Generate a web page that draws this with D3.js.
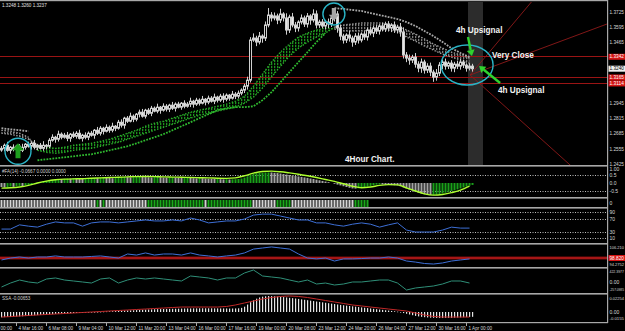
<!DOCTYPE html>
<html>
<head>
<meta charset="utf-8">
<script src="https://cdn.jsdelivr.net/npm/d3@7"></script>
<style>
  html, body { margin: 0; padding: 0; background: #000; }
  svg { display: block; }
  text { font-family: "Liberation Sans", Arial, sans-serif; }
</style>
</head>
<body>
<svg id="chart" width="625" height="331"></svg>
<script>
// ---- data (4h bars, one value per bar) ----
const FIRST_OPEN = 1.2545;
const closes = [
  1.2559,1.2585,1.2542,1.2568,1.2551,1.2577,1.2542,1.2568,1.2594,1.2577,
  1.2602,1.2568,1.2585,1.2559,1.2585,1.2577,1.2628,1.2654,1.2637,1.2680,
  1.2654,1.2671,1.2645,1.2680,1.2662,1.2688,1.2645,1.2671,1.2654,1.2688,
  1.2671,1.2714,1.2688,1.2731,1.2705,1.2739,1.2714,1.2748,1.2731,1.2782,
  1.2757,1.2817,1.2791,1.2834,1.2808,1.2851,1.2868,1.2834,1.2885,1.2859,
  1.2902,1.2877,1.2911,1.2885,1.2919,1.2894,1.2928,1.2902,1.2937,1.2911,
  1.2945,1.2919,1.2937,1.2962,1.2937,1.2971,1.2945,1.2979,1.2954,1.2988,
  1.2962,1.2997,1.2971,1.3005,1.2979,1.3014,1.2988,1.3022,1.3005,1.3031,
  1.3057,1.3091,1.3142,1.3485,1.3502,1.3468,1.3519,1.3502,1.3614,1.3699,
  1.3674,1.3691,1.3656,1.3708,1.3674,1.3571,1.3682,1.3614,1.3588,1.3639,
  1.3674,1.3622,1.3691,1.3656,1.3708,1.3614,1.3639,1.3605,1.3639,1.3622,
  1.3674,1.3708,1.3588,1.3519,1.3485,1.3528,1.3502,1.3468,1.3519,1.3485,
  1.3536,1.3511,1.3571,1.3545,1.3588,1.3562,1.3605,1.3579,1.3622,1.3588,
  1.3614,1.3571,1.3596,1.3554,1.3357,1.3331,1.3314,1.3339,1.3279,1.3245,
  1.3297,1.3228,1.3262,1.3211,1.3168,1.3202,1.3271,1.3297,1.3262,1.3288,
  1.3245,1.3279,1.3262,1.3297,1.3271,1.3245,1.3262,1.3240
];
// wick lengths in pips above / below the body
const wickUp = [
  20,15,30,10,25,12,18,30,10,22, 15,28,12,20,35,10,18,25,12,30,
  15,20,28,10,22,18,30,12,25,15, 20,10,28,18,12,25,15,30,10,20,
  25,12,18,30,15,10,22,28,12,18, 20,15,30,10,25,18,12,28,15,20,
  10,25,18,30,12,20,15,28,10,22, 18,30,12,20,25,15,10,28,18,22,
  15,20,30,25,40,20,35,15,30,60, 25,30,20,45,15,40,20,35,25,15,
  30,20,25,15,40,30,20,25,15,30, 20,45,25,30,20,15,35,20,25,30,
  15,25,20,30,18,25,15,30,20,25, 15,30,20,35,40,25,30,20,35,25,
  30,20,25,30,20,35,25,20,30,15, 25,20,30,25,20,15,25,20
];
const wickDn = [
  15,25,12,30,18,10,28,15,20,12, 30,18,25,10,20,28,15,12,30,20,
  18,12,25,30,15,20,10,28,18,25, 12,30,15,20,28,10,22,18,25,12,
  20,30,15,10,25,18,28,12,20,15, 25,10,18,30,12,20,25,15,28,10,
  22,18,12,25,30,15,20,10,28,18, 12,25,20,15,30,18,22,12,25,20,
  18,25,30,20,15,35,20,40,25,20, 30,20,35,25,30,40,25,20,35,30,
  20,25,30,40,20,30,25,20,30,35, 25,30,40,35,30,25,30,40,25,30,
  20,25,30,20,35,25,30,20,25,30, 35,25,30,40,30,35,40,25,30,35,
  40,30,25,35,40,30,25,35,30,25, 30,35,25,30,25,30,20,25
];
// main-window overlays, one value every 3 bars
const ribbonFast = [
  1.2688,1.2679,1.2662,1.2637,1.2585,1.2568,1.2559,1.2568,1.2585,1.2594,
  1.2602,1.2619,1.2637,1.2662,1.2688,1.2714,1.2748,1.2774,1.2791,1.2817,
  1.2842,1.2868,1.2885,1.2902,1.2919,1.2937,1.2962,1.3005,1.3091,1.3194,
  1.3297,1.3382,1.3451,1.3511,1.3545,1.3571,1.3588,1.3579,1.3562,1.3562,
  1.3562,1.3571,1.3571,1.3571,1.3554,1.3511,1.3476,1.3434,1.3399,1.3365,
  1.3339,1.3314,1.3288
];
const ribbonSlow = [
  1.2714,1.2705,1.2688,1.2654,1.2542,1.2525,1.2517,1.2525,1.2542,1.2551,
  1.2559,1.2577,1.2594,1.2611,1.2637,1.2662,1.2688,1.2714,1.2739,1.2765,
  1.2791,1.2817,1.2842,1.2859,1.2877,1.2894,1.2911,1.2945,1.2997,1.3074,
  1.3168,1.3262,1.3348,1.3416,1.3468,1.3511,1.3545,1.3596,1.3614,1.3622,
  1.3631,1.3631,1.3631,1.3622,1.3605,1.3571,1.3536,1.3494,1.3451,1.3416,
  1.3382,1.3357,1.3331
];
const sar = [
  1.2731,1.2722,1.2714,1.2705,1.2457,1.2465,1.2474,1.2482,1.2491,1.2500,
  1.2508,1.2525,1.2542,1.2559,1.2577,1.2602,1.2628,1.2654,1.2680,1.2714,
  1.2748,1.2782,1.2817,1.2851,1.2885,1.2902,1.2911,1.2911,1.2919,1.2971,
  1.3039,1.3125,1.3211,1.3297,1.3382,1.3468,1.3545,1.3759,1.3751,1.3742,
  1.3734,1.3716,1.3699,1.3682,1.3665,1.3639,1.3605,1.3562,1.3519,1.3468,
  1.3416,1.3374,1.3339
];
const supportLevels = [1.3342, 1.3165, 1.3114];
const lastPrice = 1.3240;
const priceTicks = [1.3725,1.3595,1.3465,1.3335,1.3205,1.3075,1.2945,1.2815,1.2685,1.2555,1.2425];

// #FA(14) histogram (per bar) and its line (every 3 bars)
const faHist = [
  -0.25,-0.28,-0.26,-0.22,-0.24,-0.2,-0.18,-0.2,-0.15,-0.12,
  -0.08,-0.03,0.02,0.06,0.1,0.14,0.18,0.2,0.22,0.25,
  0.24,0.26,0.28,0.27,0.3,0.29,0.27,0.25,0.26,0.28,
  0.3,0.32,0.31,0.33,0.35,0.34,0.32,0.3,0.31,0.33,
  0.36,0.38,0.37,0.35,0.36,0.38,0.4,0.39,0.37,0.36,
  0.35,0.37,0.38,0.36,0.34,0.33,0.35,0.36,0.34,0.32,
  0.31,0.33,0.34,0.32,0.3,0.29,0.31,0.3,0.28,0.27,
  0.26,0.25,0.26,0.24,0.23,0.24,0.22,0.23,0.24,0.25,
  0.28,0.34,0.42,0.52,0.58,0.61,0.63,0.64,0.65,0.66,
  0.66,0.64,0.62,0.59,0.56,0.53,0.5,0.47,0.44,0.41,
  0.38,0.35,0.32,0.28,0.25,0.21,0.17,0.13,0.09,0.05,
  0.0,-0.05,-0.1,-0.15,-0.2,-0.25,-0.3,-0.34,-0.35,-0.33,
  -0.3,-0.26,-0.22,-0.18,-0.14,-0.1,-0.08,-0.09,-0.11,-0.12,
  -0.13,-0.14,-0.15,-0.2,-0.27,-0.34,-0.41,-0.48,-0.55,-0.61,
  -0.66,-0.7,-0.73,-0.75,-0.74,-0.72,-0.69,-0.65,-0.61,-0.56,
  -0.51,-0.46,-0.4,-0.34,-0.28,-0.22,-0.17,-0.12
];
const faLine = [
  -0.32,-0.3,-0.25,-0.15,0.0,0.12,0.2,0.24,0.26,0.27,
  0.3,0.32,0.34,0.36,0.38,0.4,0.41,0.4,0.38,0.37,
  0.36,0.34,0.33,0.32,0.3,0.29,0.32,0.45,0.62,0.72,
  0.74,0.7,0.63,0.55,0.45,0.34,0.22,0.1,-0.05,-0.2,
  -0.3,-0.25,-0.15,-0.1,-0.12,-0.3,-0.5,-0.68,-0.76,-0.72,
  -0.6,-0.45,-0.2
];
// signal strip: 0 none, 1 down (white), 2 up (green)
const strip = [
  0,0,0,0,0, 1,1,1,1,0,1,1,1,1,0,1,1,1,1,1,
  1,1,1,1,1,1,1,0,1,1,1,1,1,1,1,1,1,1,1,1,
  2,0,1,2,1,1, 1,1,1,1,1,1,1,1,1,1,1, 0,0,1,
  2,2,2,2,2,2,2,2,2,2,2,2,2,2,2,2,2,2,2,
  0,0,0,0,0,0,0,0,0, 1,
  2,2,2,2,2,2,2,2,2,2,2,2,2,2,2, 0,0,0,
  1,1,1,1,1,1,1,1, 0,0, 2,2,2,2,2, 0,0,0,
  1,1,1,1,1,1,1,0,1,1,1,1,1,1,1,1,1,1,1,1,1,1,
  0,0,0,0,0,0, 2,2,2,2,2
];
// lower indicators, one value every 3 bars
const rsi = [
  39,39,52,48,45,54,61,58,58,48, 58,61,61,58,61,64,67,64,64,67,
  64,73,67,58,61,64,64,70,82,85, 85,79,73,67,67,58,58,52,48,54,
  58,54,45,52,58,36,30,30,30,36, 45,42,42
];
const rsiLevels = [90, 70, 30, 10];
const momentum = [
  97.7,98.8,99.4,98.8,99.4,99.4,100.0,99.4,99.4,99.4,
  99.7,100.0,99.4,98.8,101.1,100.5,101.7,100.5,101.1,101.1,
  100.5,101.7,100.5,100.0,99.4,100.0,100.5,101.7,103.9,104.5,
  105.1,104.5,103.9,101.1,98.8,98.3,98.8,97.1,98.3,98.3,
  98.5,98.8,98.8,99.4,98.8,97.1,96.5,95.7,95.4,96.0,
  97.1,97.7,98.3
];
const momentumLevel = 98.82;
const cci = [
  -136,-16,75,15,-16,105,136,75,45,15, -16,105,136,-16,75,136,105,136,105,75,
  45,196,166,136,75,136,136,287,377,196, 166,136,75,15,75,-46,-16,-76,-46,15,
  15,45,75,75,-16,-227,-166,-136,-106,-46, 45,45,-16
];
const osma = [
  -0.0075,-0.0072,-0.007,-0.0068,-0.0066,-0.0064,-0.0062,-0.006,-0.0057,-0.0054,
  -0.005,-0.0047,-0.0044,-0.0041,-0.0038,-0.0035,-0.0032,-0.003,-0.0027,-0.0025,
  -0.0023,-0.0021,-0.0019,-0.0017,-0.0015,-0.0013,-0.0011,-0.0009,-0.0007,-0.0005,
  -0.0003,-0.0001,0.0001,0.0003,0.0005,0.0007,0.0009,0.0011,0.0013,0.0015,
  0.0017,0.0019,0.0021,0.0023,0.0025,0.0027,0.0029,0.0031,0.0033,0.0035,
  0.0037,0.0039,0.004,0.0041,0.0042,0.0043,0.0044,0.0045,0.0046,0.0047,
  0.0048,0.0049,0.005,0.005,0.0051,0.0051,0.0052,0.0052,0.0052,0.0052,
  0.0052,0.0051,0.0051,0.005,0.005,0.005,0.0049,0.0049,0.005,0.0052,
  0.0058,0.0075,0.0105,0.0138,0.0165,0.0188,0.0205,0.0216,0.0222,0.0225,
  0.0224,0.0222,0.0219,0.0215,0.021,0.0205,0.02,0.0195,0.019,0.0184,
  0.0178,0.0172,0.0166,0.016,0.0154,0.0148,0.0142,0.0136,0.013,0.0124,
  0.0118,0.0112,0.0106,0.01,0.0095,0.009,0.0085,0.008,0.0075,0.007,
  0.0065,0.006,0.0055,0.005,0.0045,0.004,0.0035,0.003,0.0025,0.002,
  0.0015,0.001,0.0005,-0.0005,-0.0015,-0.0025,-0.0035,-0.0045,-0.0055,-0.0062,
  -0.0068,-0.0073,-0.0077,-0.008,-0.0082,-0.0084,-0.0085,-0.0085,-0.0084,-0.0083,
  -0.0082,-0.008,-0.0078,-0.0076,-0.0074,-0.0072,-0.007,-0.0068
];
const osmaSignal = [
  -0.0071,-0.0065,-0.0056,-0.0049,-0.0042,-0.0035,-0.0028,-0.0021,-0.0014,-0.0007,
  0,0.0007,0.0014,0.0021,0.0028,0.0035,0.0042,0.0049,0.0056,0.0063,
  0.007,0.007,0.007,0.007,0.007,0.0078,0.0099,0.0127,0.0155,0.0183,
  0.0204,0.0219,0.0226,0.0219,0.0204,0.0183,0.0162,0.0141,0.012,0.0099,
  0.0085,0.007,0.0056,0.0042,0.0028,0.0014,-0.0014,-0.0042,-0.0063,-0.0071,
  -0.0071,-0.0071,-0.0071
];
const timeLabels = [
  "3 Mar 00:00","4 Mar 16:00","6 Mar 08:00","9 Mar 04:00","10 Mar 12:00","11 Mar 20:00",
  "13 Mar 04:00","16 Mar 00:00","17 Mar 16:00","19 Mar 00:00","20 Mar 08:00","23 Mar 12:00",
  "24 Mar 20:00","26 Mar 04:00","27 Mar 12:00","30 Mar 16:00","1 Apr 00:00"
];
const timeLabelBars = d3.range(-5, 160, 10);

// hand-drawn annotations, in bar / price units
const annotations = [
  {bar: 151.5, price: 1.3545, text: "4h Upsignal"},
  {bar: 163.5, price: 1.3332, text: "Very Close"},
  {bar: 165.5, price: 1.3032, text: "4h Upsignal"},
  {bar: 114.5, price: 1.2443, text: "4Hour Chart."}
];
const circles = [
  {bar: 5.5, price: 1.2534, rx: 13, ry: 13, arrow: "up"},
  {bar: 110.8, price: 1.3708, rx: 11, ry: 11, arrow: "down"},
  {bar: 155.2, price: 1.3272, rx: 26, ry: 20}
];
const pointers = [
  {from: [155.5, 1.3511], to: [156.8, 1.3349]},
  {from: [166.2, 1.3118], to: [159.2, 1.3263]}
];
const fanOrigin = [156.2, 1.3186];
const fanEnds = [[177.2, 1.3828], [201.8, 1.3622], [189.5, 1.2417]];
const highlightBars = [155.5, 160.5];

// ---- layout ----
const W = 625, H = 331, PLOT_R = 607, STEP = 3;
const svg = d3.select("#chart");
const defs = svg.append("defs");
svg.append("rect").attr("width", W).attr("height", H).attr("fill", "#000");

const x = d3.scaleLinear().domain([0, 157]).range([1.5, 472.5]);
const xs = k => x(k * STEP);
const px = v => Math.floor(v) + 0.5;

const yMain = d3.scaleLinear().domain([1.2425, 1.3725]).range([164, 12]);
const yFa = d3.scaleLinear().domain([-0.5, 0.5]).range([191, 175]);
const yRsi = d3.scaleLinear().domain([0, 100]).range([241.75, 209.25]);
const yMom = d3.scaleLinear().domain([94.2752, 106.21]).range([266, 245]);
const yCci = d3.scaleLinear().domain([-257.0985, 422.3977]).range([291, 268.5]);
const yOsma = d3.scaleLinear().domain([-0.0155, 0.02254]).range([323, 296]);

function clip(id, y0, y1) {
  defs.append("clipPath").attr("id", id)
    .append("rect").attr("x", 0).attr("y", y0).attr("width", PLOT_R).attr("height", y1 - y0);
  return svg.append("g").attr("clip-path", `url(#${id})`);
}
// vertical dotted bars used to fill the ribbon
[["stripeGreen", "#1d921d"], ["stripeGray", "#7c7c7c"]].forEach(([id, c]) => {
  defs.append("pattern").attr("id", id).attr("patternUnits", "userSpaceOnUse")
    .attr("width", 3).attr("height", 3)
    .append("rect").attr("x", 1).attr("width", 1.3).attr("height", 2.2).attr("fill", c);
});

// group consecutive indexes that share the same side
function runs(n, side) {
  const out = [];
  let cur = null;
  for (let k = 0; k < n; k++) {
    const s = side(k);
    if (!cur || cur.side !== s) { cur = {side: s, idx: []}; out.push(cur); }
    cur.idx.push(k);
  }
  return out;
}

// ---- main window ----
const main = clip("clipMain", 2, 165);

main.append("rect")
  .attr("x", x(highlightBars[0])).attr("width", x(highlightBars[1]) - x(highlightBars[0]))
  .attr("y", 2).attr("height", 163).attr("fill", "#2c2c2c");

main.selectAll(".level").data(supportLevels).enter().append("line")
  .attr("x1", 0).attr("x2", PLOT_R)
  .attr("y1", d => px(yMain(d))).attr("y2", d => px(yMain(d)))
  .attr("stroke", "#9a1414").attr("stroke-width", 1);

const ox = x(fanOrigin[0]), oy = yMain(fanOrigin[1]);
main.selectAll(".fan").data(fanEnds).enter().append("line")
  .attr("x1", ox).attr("y1", oy)
  .attr("x2", d => ox + (x(d[0]) - ox) * 3)
  .attr("y2", d => oy + (yMain(d[1]) - oy) * 3)
  .attr("stroke", "#8e1a1a").attr("stroke-width", 0.9);

// ribbon between fast and slow averages
const ribbonRuns = runs(ribbonFast.length, k => ribbonFast[k] >= ribbonSlow[k]);
ribbonRuns.forEach(r => {
  const idx = r.idx.slice();
  const last = idx[idx.length - 1];
  if (last + 1 < ribbonFast.length) idx.push(last + 1);
  main.append("path").datum(idx)
    .attr("d", d3.area().x(k => xs(k)).y0(k => yMain(ribbonSlow[k])).y1(k => yMain(ribbonFast[k])))
    .attr("fill", r.side ? "url(#stripeGreen)" : "url(#stripeGray)");
  [ribbonFast, ribbonSlow].forEach(series => {
    main.append("path").datum(idx)
      .attr("d", d3.line().x(k => xs(k)).y(k => yMain(series[k])))
      .attr("fill", "none")
      .attr("stroke", r.side ? "#2aae2a" : "#9a9a9a")
      .attr("stroke-width", 1.4).attr("stroke-dasharray", "1.4,1.6");
  });
});

// parabolic SAR dots
runs(sar.length, k => sar[k] < closes[k * STEP]).forEach(r => {
  main.append("path").datum(r.idx)
    .attr("d", d3.line().x(k => xs(k)).y(k => yMain(sar[k])))
    .attr("fill", "none")
    .attr("stroke", r.side ? "#2fb82f" : "#a8a8a8")
    .attr("stroke-width", 1.8).attr("stroke-dasharray", "1.8,1.2");
});

// candles
const bars = closes.map((c, i) => {
  const o = i === 0 ? FIRST_OPEN : closes[i - 1];
  return {i, o, c, h: Math.max(o, c) + wickUp[i] / 10000, l: Math.min(o, c) - wickDn[i] / 10000};
});
const candle = main.selectAll(".candle").data(bars).enter().append("g");
candle.append("line")
  .attr("x1", d => px(x(d.i))).attr("x2", d => px(x(d.i)))
  .attr("y1", d => yMain(d.h)).attr("y2", d => yMain(d.l))
  .attr("stroke", "#cfcfcf").attr("stroke-width", 1);
candle.append("rect")
  .attr("x", d => Math.floor(x(d.i)) - 0.5).attr("width", 2)
  .attr("y", d => yMain(Math.max(d.o, d.c)))
  .attr("height", d => Math.max(1, Math.abs(yMain(d.o) - yMain(d.c))))
  .attr("fill", d => d.c >= d.o ? "#000" : "#e6e6e6")
  .attr("stroke", "#d0d0d0").attr("stroke-width", 1);

// annotations
circles.forEach(c => {
  const cx = x(c.bar), cy = yMain(c.price);
  if (c.arrow) {
    const s = c.arrow === "up" ? 1 : -1;
    const pts = [[0,-8],[6,-1],[2.5,-1],[2.5,7],[-2.5,7],[-2.5,-1],[-6,-1]]
      .map(p => [cx + p[0] * (s > 0 ? 1 : 0.85), cy + p[1] * s * (s > 0 ? 1 : 0.85)]);
    main.append("polygon").attr("points", pts.join(" "))
      .attr("fill", s > 0 ? "#1e9e1e" : "#a6a6a6");
  }
  main.append("ellipse").attr("cx", cx).attr("cy", cy).attr("rx", c.rx).attr("ry", c.ry)
    .attr("fill", "none").attr("stroke", "#2ab4c6").attr("stroke-width", 1.4);
});
pointers.forEach(p => {
  const x1 = x(p.from[0]), y1 = yMain(p.from[1]), x2 = x(p.to[0]), y2 = yMain(p.to[1]);
  const a = Math.atan2(y2 - y1, x2 - x1);
  const hx = x2 - 6 * Math.cos(a), hy = y2 - 6 * Math.sin(a);
  main.append("line").attr("x1", x1).attr("y1", y1).attr("x2", hx).attr("y2", hy)
    .attr("stroke", "#2fd22f").attr("stroke-width", 2.4);
  const n = [-Math.sin(a), Math.cos(a)];
  main.append("polygon")
    .attr("points", [[x2, y2], [hx + n[0] * 4, hy + n[1] * 4], [hx - n[0] * 4, hy - n[1] * 4]].join(" "))
    .attr("fill", "#2fd22f");
});
main.selectAll(".note").data(annotations).enter().append("text")
  .attr("x", d => x(d.bar)).attr("y", d => yMain(d.price))
  .attr("fill", "#f2f2f2").attr("font-size", 8.2).attr("font-weight", "bold")
  .text(d => d.text);

svg.append("text").attr("x", 2).attr("y", 7).attr("fill", "#e0e0e0").attr("font-size", 4.6)
  .text("1.3248 1.3260 1.3237");

// ---- #FA panel ----
const fa = clip("clipFa", 167, 197);
fa.selectAll(".lvl").data([0.5, -0.5]).enter().append("line")
  .attr("x1", 0).attr("x2", PLOT_R).attr("y1", d => px(yFa(d))).attr("y2", d => px(yFa(d)))
  .attr("stroke", "#bdbdbd").attr("stroke-dasharray", "1,1.5");
fa.selectAll(".bar").data(faHist).enter().append("rect")
  .attr("x", (d, i) => Math.floor(x(i)) - 0.5).attr("width", 2)
  .attr("y", d => Math.min(yFa(0), yFa(d))).attr("height", d => Math.abs(yFa(d) - yFa(0)))
  .attr("fill", (d, i) => i > 0 && d > faHist[i - 1] ? "#1aa01a" : "#a4a4a4");
fa.append("path").datum(faLine)
  .attr("d", d3.line().x((d, k) => xs(k)).y(d => yFa(d)).curve(d3.curveMonotoneX))
  .attr("fill", "none").attr("stroke", "#adff2f").attr("stroke-width", 1.4);
svg.append("text").attr("x", 2).attr("y", 172.5).attr("fill", "#d0d0d0").attr("font-size", 4.6)
  .text("#FA(14) -0.0667 0.0000 0.0000");

// ---- signal strip ----
svg.append("g").selectAll("rect").data(strip).enter().filter(d => d > 0).append("rect")
  .attr("x", (d, i) => Math.floor(x(i)) - 0.5).attr("width", 2)
  .attr("y", 200).attr("height", 7)
  .attr("fill", d => d === 2 ? "#1aa81a" : "#d4d4d4");

// ---- RSI panel ----
const rp = clip("clipRsi", 209, 243);
rp.selectAll(".lvl").data(rsiLevels).enter().append("line")
  .attr("x1", 0).attr("x2", PLOT_R).attr("y1", d => px(yRsi(d))).attr("y2", d => px(yRsi(d)))
  .attr("stroke", "#bdbdbd").attr("stroke-dasharray", "1,1.5");
rp.append("path").datum(rsi)
  .attr("d", d3.line().x((d, k) => xs(k)).y(d => yRsi(d)))
  .attr("fill", "none").attr("stroke", "#3d6fd6").attr("stroke-width", 1);

// ---- momentum panel ----
const mp = clip("clipMom", 245, 267);
mp.append("line").attr("x1", 0).attr("x2", PLOT_R)
  .attr("y1", yMom(momentumLevel)).attr("y2", yMom(momentumLevel))
  .attr("stroke", "#7a0c0c").attr("stroke-width", 3);
mp.append("line").attr("x1", 0).attr("x2", PLOT_R)
  .attr("y1", yMom(momentumLevel)).attr("y2", yMom(momentumLevel))
  .attr("stroke", "#d02020").attr("stroke-width", 1);
mp.append("path").datum(momentum)
  .attr("d", d3.line().x((d, k) => xs(k)).y(d => yMom(d)))
  .attr("fill", "none").attr("stroke", "#3d6fd6").attr("stroke-width", 1);

// ---- CCI panel ----
const cp = clip("clipCci", 269, 293);
cp.append("path").datum(cci)
  .attr("d", d3.line().x((d, k) => xs(k)).y(d => yCci(d)))
  .attr("fill", "none").attr("stroke", "#2f8f78").attr("stroke-width", 1);

// ---- OsMA panel ----
const op = clip("clipOsma", 295, 322);
op.selectAll(".bar").data(osma).enter().append("rect")
  .attr("x", (d, i) => Math.floor(x(i))).attr("width", 1.2)
  .attr("y", d => Math.min(yOsma(0), yOsma(d))).attr("height", d => Math.max(0.6, Math.abs(yOsma(d) - yOsma(0))))
  .attr("fill", "#e4e4e4");
op.append("path").datum(osmaSignal)
  .attr("d", d3.line().x((d, k) => xs(k)).y(d => yOsma(d)))
  .attr("fill", "none").attr("stroke", "#c02828").attr("stroke-width", 1);
svg.append("text").attr("x", 2).attr("y", 299.5).attr("fill", "#d0d0d0").attr("font-size", 4.6)
  .text("SSA -0.00653");

// ---- frames ----
[165, 197, 207, 243, 267, 293].forEach(y => {
  svg.append("rect").attr("x", 0).attr("y", y).attr("width", PLOT_R + 1).attr("height", 1.6).attr("fill", "#a8a8a8");
});
svg.append("rect").attr("x", 0).attr("y", 0).attr("width", PLOT_R + 1).attr("height", 1.2).attr("fill", "#a8a8a8");
svg.append("rect").attr("x", 0).attr("y", 322).attr("width", PLOT_R + 1).attr("height", 1.2).attr("fill", "#a8a8a8");
svg.append("rect").attr("x", PLOT_R).attr("y", 0).attr("width", 1.2).attr("height", 323).attr("fill", "#a8a8a8");

// ---- right axis labels ----
const AXIS_X = 609.5, AXIS_W = 14.5, AXIS_FONT = 5;
function axisText(y, t) {
  const el = svg.append("text").attr("x", AXIS_X).attr("y", y + 1.7)
    .attr("fill", "#d8d8d8").attr("font-size", AXIS_FONT).text(t);
  const w = el.node().getComputedTextLength();
  // long values are set smaller so that they stay inside the picture
  if (w > AXIS_W) el.attr("font-size", AXIS_FONT * AXIS_W / w);
  return el;
}
function axisTag(y, t, bg, fg) {
  svg.append("rect").attr("x", 608.5).attr("y", y - 3).attr("width", 16.5).attr("height", 6).attr("fill", bg);
  axisText(y, t).attr("fill", fg);
}
const tagPrices = supportLevels.concat([lastPrice]);
priceTicks
  .filter(p => tagPrices.every(t => Math.abs(yMain(t) - yMain(p)) > 5))
  .forEach(p => axisText(yMain(p), p.toFixed(4)));
supportLevels.forEach(p => axisTag(yMain(p), p.toFixed(4), "#d41414", "#fff"));
axisTag(yMain(lastPrice), lastPrice.toFixed(4), "#f0f0f0", "#000");

axisText(169, "1.00"); axisText(yFa(0.5), "0.5"); axisText(yFa(0), "0.0"); axisText(yFa(-0.5), "-0.5");
axisText(203, "0");
rsiLevels.forEach(v => axisText(yRsi(v), String(v)));
axisText(247.5, "106.210"); axisText(264, "94.2752");
axisTag(yMom(momentumLevel), momentumLevel.toFixed(3), "#d41414", "#fff");
axisText(271, "422.3977"); axisText(yCci(0), "0.00"); axisText(289, "-257.0985");
axisText(298, "0.02254"); axisText(yOsma(0), "0.00"); axisText(318.5, "-0.0155");

// ---- time axis ----
const tg = svg.append("g");
timeLabelBars.forEach((b, j) => {
  const tx = x(b);
  if (tx >= 0) {
    tg.append("line").attr("x1", px(tx)).attr("x2", px(tx)).attr("y1", 323).attr("y2", 326)
      .attr("stroke", "#a8a8a8");
  }
  // a tick left of the window only shows the time part of its label
  const label = tx >= 0 ? timeLabels[j] : timeLabels[j].split(" ").pop();
  tg.append("text").attr("x", Math.max(0.5, tx + 2)).attr("y", 329.5).attr("fill", "#d8d8d8")
    .attr("font-size", 4.6).text(label);
});
</script>
</body>
</html>
